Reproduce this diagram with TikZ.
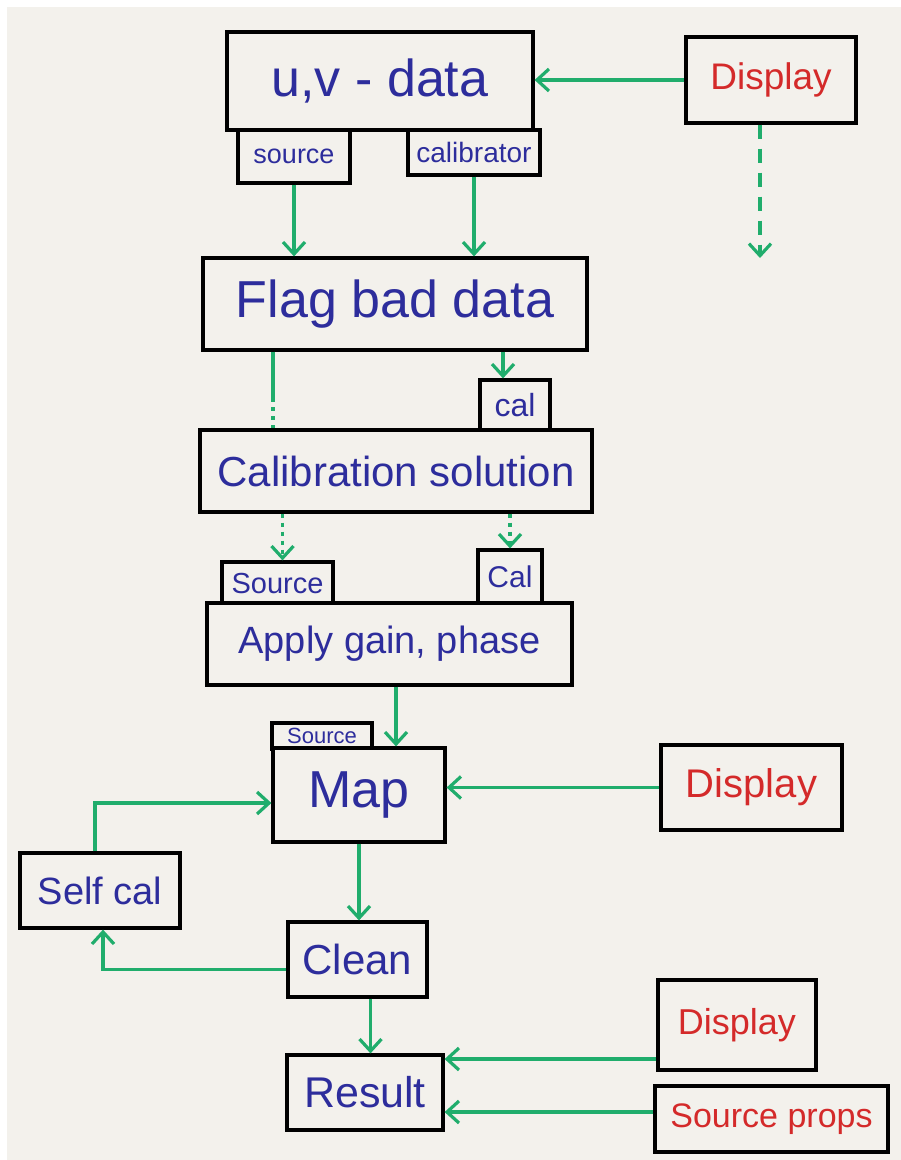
\documentclass[tikz,border=0pt]{standalone}
\usepackage{fontspec}
\setmainfont{Liberation Sans}
\usetikzlibrary{arrows.meta}
\definecolor{paper}{HTML}{F3F1EC}
\definecolor{inkblue}{HTML}{2D2D9C}
\definecolor{inkred}{HTML}{D42A2A}
\definecolor{inkgreen}{HTML}{20AD6C}
\newcommand{\fs}[1]{\fontsize{#1}{#1}\selectfont}
\tikzset{
  box/.style={draw=black, line width=3.2pt, fill=paper, inner sep=0pt, text=inkblue},
  redbox/.style={box, text=inkred},
  tip/.style={-{Straight Barb[length=12pt,width=22pt]}},
  arr/.style={draw=inkgreen, line width=3.2pt, tip},
  plain/.style={draw=inkgreen, line width=3.2pt},
  dotarr/.style={draw=inkgreen, line width=3.2pt, dash pattern=on 4pt off 5pt, tip},
  dotline/.style={draw=inkgreen, line width=3.2pt, dash pattern=on 4pt off 5pt},
  dasharr/.style={draw=inkgreen, line width=3.2pt, dash pattern=on 14pt off 10pt, tip}
}
\begin{document}
\begin{tikzpicture}[x=1pt,y=-1pt]
\useasboundingbox (0,0) rectangle (901,1160);
\fill[white] (0,0) rectangle (901,1160);
\fill[paper] (7,7) rectangle (901,1160);

% tabs
\node[box, minimum width=112pt, minimum height=53pt] (srcA) at (294,156.5) {\fs{27}source};
\node[box, minimum width=132pt, minimum height=45pt] (calA) at (474,152.5) {\fs{28}calibrator};
\node[box, minimum width=70pt, minimum height=50pt] (calB) at (515,405) {\fs{32}cal};
\node[box, minimum width=111pt, minimum height=43pt] (srcC) at (277.5,583.5) {\fs{29}Source};
\node[box, minimum width=64pt, minimum height=54pt] (calC) at (510,577) {\fs{30}Cal};
\node[box, minimum width=100pt, minimum height=26pt] (srcD) at (322,736) {\fs{22}Source};

% main boxes
\node[box, minimum width=306pt, minimum height=98pt] (uv) at (380,81) {\fs{52}u,v - data};
\node[redbox, minimum width=170pt, minimum height=86pt] (dispA) at (771,80) {\fs{37}Display};
\node[box, minimum width=384pt, minimum height=92pt] (flag) at (395,304) {\fs{52}Flag bad data};
\node[box, minimum width=392pt, minimum height=82pt] (calib) at (396,471) {\fs{42}Calibration solution};
\node[box, minimum width=365pt, minimum height=82pt] (apply) at (389.5,644) {\fs{38}Apply gain, phase};
\node[box, minimum width=172pt, minimum height=94pt] (map) at (359,795) {\fs{52}Map};
\node[redbox, minimum width=181pt, minimum height=85pt] (dispB) at (751.5,787.5) {\fs{40}Display};
\node[box, minimum width=160pt, minimum height=75pt] (self) at (100,890.5) {\fs{38}Self cal};
\node[box, minimum width=139pt, minimum height=75pt] (clean) at (357.5,959.5) {\fs{42}Clean};
\node[box, minimum width=156pt, minimum height=75pt] (result) at (365,1092.5) {\fs{43}Result};
\node[redbox, minimum width=158pt, minimum height=90pt] (dispC) at (737,1025) {\fs{36}Display};
\node[redbox, minimum width=233pt, minimum height=66pt] (props) at (771.5,1119) {\fs{34}Source props};

% connectors
\coordinate (dashend) at (760,258);
\coordinate (dotmid) at (273,398);

\draw[arr] (dispA.west) -- (dispA.west -| uv.east);
\draw[dasharr] (dispA.south -| dashend) -- (dashend);
\draw[arr] (srcA.south) -- (srcA.south |- flag.north);
\draw[arr] (calA.south) -- (calA.south |- flag.north);
\draw[arr] ([xshift=-12pt]calB.north |- flag.south) -- ([xshift=-12pt]calB.north);
\draw[plain] (dotmid |- flag.south) -- (dotmid);
\draw[dotline] (dotmid) -- (dotmid |- calib.north);
\draw[dotarr] ([xshift=5pt]srcC.north |- calib.south) -- ([xshift=5pt]srcC.north);
\draw[dotarr] (calC.north |- calib.south) -- (calC.north);
\draw[arr] ([xshift=37pt]map.north |- apply.south) -- ([xshift=37pt]map.north);
\draw[arr] (dispB.west) -- (dispB.west -| map.east);
\draw[arr] ([xshift=-5pt]self.north) |- ([yshift=-8pt]map.west);
\draw[arr] (map.south) -- (map.south |- clean.north);
\draw[arr] ([yshift=-10pt]clean.west) -| ([xshift=3pt]self.south);
\draw[arr] ([xshift=13pt]clean.south) -- ([xshift=13pt]clean.south |- result.north);
\draw[arr] ([yshift=-34pt]dispC.west) -- ([yshift=-34pt]dispC.west -| result.east);
\draw[arr] ([yshift=7pt]props.west) -- ([yshift=7pt]props.west -| result.east);
\end{tikzpicture}
\end{document}
